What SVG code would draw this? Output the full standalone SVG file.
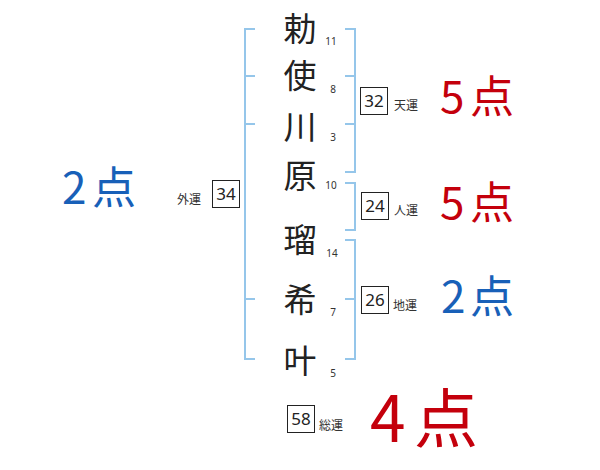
<svg xmlns="http://www.w3.org/2000/svg" width="600" height="470" viewBox="0 0 600 470">
<style>
.br{fill:none;stroke:#95c6ea;stroke-width:2}
.bx{fill:#fff;stroke:#222;stroke-width:1}
.nm{font-family:"Noto Sans CJK JP","Noto Sans",sans-serif;font-size:33px;fill:#222;text-anchor:middle}
.st{font-family:"Noto Sans","Noto Sans CJK JP",sans-serif;font-size:10px;fill:#333;text-anchor:middle}
.bn{font-family:"Noto Sans","Noto Sans CJK JP",sans-serif;font-size:17px;fill:#222;text-anchor:middle}
.lb{font-family:"Noto Sans CJK JP",sans-serif;font-size:12px;fill:#333}
.pt{font-family:"Noto Sans CJK JP",sans-serif;font-size:44px;font-weight:normal}
.red{fill:#c4000c}
.blue{fill:#1860b8}
</style>
<rect width="600" height="470" fill="#fff"/>
<g id="connectors">
<path class="br" d="M255,29 H245 V359 H255 M245,76 H255 M245,124 H255 M245,299 H255"/>
<path class="br" d="M345,29 H355 V172 H345 M345,76 H355 M345,124 H355"/>
<path class="br" d="M345,183 H355 V230 H345"/>
<path class="br" d="M345,240 H355 V359 H345 M345,299 H355"/>
</g>
<g id="name">
<text class="nm" x="300" y="41">勅</text>
<text class="nm" x="300" y="88">使</text>
<text class="nm" x="300" y="139">川</text>
<text class="nm" x="300" y="188">原</text>
<text class="nm" x="300" y="252">瑠</text>
<text class="nm" x="300" y="312">希</text>
<text class="nm" x="300" y="373">叶</text>
</g>
<g id="strokes">
<text class="st" x="331" y="45">11</text>
<text class="st" x="333" y="93">8</text>
<text class="st" x="333" y="141">3</text>
<text class="st" x="331" y="189">10</text>
<text class="st" x="332" y="257">14</text>
<text class="st" x="333" y="316">7</text>
<text class="st" x="333" y="377">5</text>
</g>
<g id="gaiun">
<rect class="bx" x="212.5" y="180.5" width="27" height="27"/>
<text class="bn" x="226" y="200">34</text>
<text class="lb" x="177" y="204">外運</text>
<text class="pt blue" x="62 92" y="204">2点</text>
</g>
<g id="tenun">
<rect class="bx" x="360.5" y="87.5" width="27" height="27"/>
<text class="bn" x="374" y="107">32</text>
<text class="lb" x="394" y="110">天運</text>
<text class="pt red" x="440 470" y="113">5点</text>
</g>
<g id="jinun">
<rect class="bx" x="361.5" y="192.5" width="27" height="27"/>
<text class="bn" x="375" y="212">24</text>
<text class="lb" x="394" y="215">人運</text>
<text class="pt red" x="440 470" y="219">5点</text>
</g>
<g id="chiun">
<rect class="bx" x="361.5" y="286.5" width="27" height="27"/>
<text class="bn" x="375" y="306">26</text>
<text class="lb" x="393" y="310">地運</text>
<text class="pt blue" x="441 470" y="313">2点</text>
</g>
<g id="soun">
<rect class="bx" x="287.5" y="405.5" width="27" height="27"/>
<text class="bn" x="301" y="425">58</text>
<text class="lb" x="319" y="430">総運</text>
<text class="pt red" x="370 414" y="442" style="font-size:64px">4点</text>
</g>
</svg>
